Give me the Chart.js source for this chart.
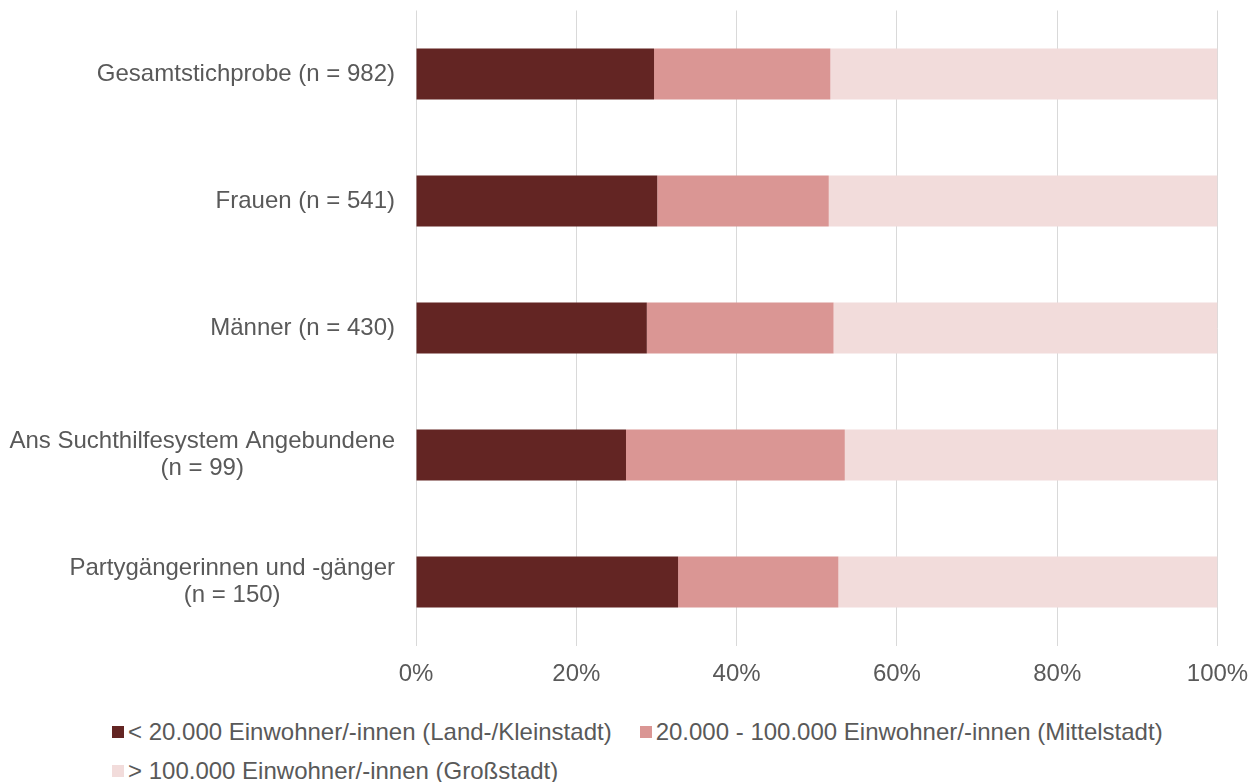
<!DOCTYPE html>
<html lang="de">
<head>
<meta charset="utf-8">
<title>Wohnortgröße nach Teilstichprobe</title>
<script src="https://cdn.jsdelivr.net/npm/chart.js@4/dist/chart.umd.min.js"></script>
<style>
  html, body { margin: 0; padding: 0; background: #ffffff; }
  #wrap { position: relative; width: 1256px; height: 782px; overflow: hidden; }
  #chart { position: absolute; left: 0; top: 0; }
  #legend {
    position: absolute; left: 112px; top: 712px; width: 1100px;
    display: flex; flex-wrap: wrap;
    font-family: "Liberation Sans", Arial, sans-serif; font-size: 24px; color: #595959;
  }
  .item { display: inline-flex; align-items: center; height: 39px; margin-right: 28px; white-space: nowrap; }
  .box { width: 12px; height: 12px; margin-right: 4px; flex: none; }
</style>
</head>
<body>
<div id="wrap">
  <canvas id="chart" width="1256" height="700"></canvas>
  <div id="legend"></div>
</div>
<script>
// Teilstichproben (Kategorien der y-Achse)
const categories = [
  ["Gesamtstichprobe (n = 982)"],
  ["Frauen (n = 541)"],
  ["Männer (n = 430)"],
  ["Ans Suchthilfesystem Angebundene", "(n = 99)"],
  ["Partygängerinnen und -gänger", "(n = 150)"]
];

// Anteile in Prozent je Wohnortgröße
const kleinstadt = [29.7, 30.1, 28.8, 26.2, 32.7];
const mittelstadt = [22.0, 21.4, 23.3, 27.3, 20.0];
const grossstadt = [48.3, 48.5, 47.9, 46.5, 47.3];

const seriesNames = [
  "< 20.000 Einwohner/-innen (Land-/Kleinstadt)",
  "20.000 - 100.000 Einwohner/-innen (Mittelstadt)",
  "> 100.000 Einwohner/-innen (Großstadt)"
];
const seriesColors = ["#632523", "#DA9694", "#F2DCDB"];

// Beschriftungen der x-Achse
const xTicks = [0, 20, 40, 60, 80, 100];
const xTickLabels = ["0%", "20%", "40%", "60%", "80%", "100%"];

const FONT = '"Liberation Sans", Arial, sans-serif';
const TEXT = "#595959";

Chart.defaults.font.family = FONT;
Chart.defaults.color = TEXT;

// Mehrzeilige Kategoriebeschriftungen: Block rechtsbündig, Zeilen zentriert
const categoryLabels = {
  id: "categoryLabels",
  afterDraw(chart) {
    const ctx = chart.ctx;
    const yScale = chart.scales.y;
    const right = chart.chartArea.left - 21;
    const lineH = 27.6;
    ctx.save();
    ctx.font = "24px " + FONT;
    ctx.fillStyle = TEXT;
    ctx.textAlign = "center";
    ctx.textBaseline = "middle";
    categories.forEach((lines, i) => {
      const cy = yScale.getPixelForValue(i);
      const w = Math.max(...lines.map(l => ctx.measureText(l).width));
      const cx = right - w / 2;
      const y0 = cy - (lines.length - 1) * lineH / 2;
      lines.forEach((l, k) => ctx.fillText(l, cx, y0 + k * lineH));
    });
    ctx.restore();
  }
};

const values = [kleinstadt, mittelstadt, grossstadt];

new Chart(document.getElementById("chart"), {
  type: "bar",
  data: {
    labels: categories.map(c => c.join(" ")),
    datasets: values.map((v, i) => ({
      label: seriesNames[i],
      data: v,
      backgroundColor: seriesColors[i],
      borderWidth: 0,
      barPercentage: 0.4,
      categoryPercentage: 1.0
    }))
  },
  options: {
    indexAxis: "y",
    responsive: false,
    animation: false,
    layout: { padding: { left: 0, right: 38.5, top: 10.5, bottom: 10.5 } },
    plugins: {
      legend: { display: false },
      tooltip: { enabled: false }
    },
    scales: {
      x: {
        stacked: true,
        min: 0,
        max: 100,
        afterBuildTicks(scale) { scale.ticks = xTicks.map(v => ({ value: v })); },
        afterFit(scale) {
          scale.height = 44;
          scale.paddingLeft = 0;
          scale.paddingRight = 0;
        },
        ticks: {
          padding: 14,
          color: TEXT,
          font: { size: 24 },
          maxRotation: 0,
          callback: (v) => xTickLabels[xTicks.indexOf(v)]
        },
        grid: { color: "#d9d9d9", lineWidth: 1, drawTicks: false },
        border: { display: false }
      },
      y: {
        stacked: true,
        afterFit(scale) { scale.width = 416; },
        ticks: { display: false },
        grid: { display: false },
        border: { display: false }
      }
    }
  },
  plugins: [categoryLabels]
});

// Legende unterhalb des Diagramms
const legend = document.getElementById("legend");
seriesNames.forEach((name, i) => {
  const item = document.createElement("span");
  item.className = "item";
  const box = document.createElement("span");
  box.className = "box";
  box.style.background = seriesColors[i];
  const txt = document.createElement("span");
  txt.textContent = name;
  item.appendChild(box);
  item.appendChild(txt);
  legend.appendChild(item);
});
</script>
</body>
</html>
